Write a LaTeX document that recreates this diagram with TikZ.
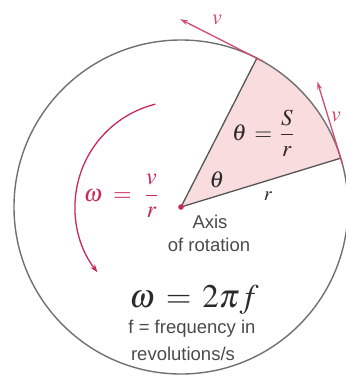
\documentclass[tikz,border=0pt]{standalone}
\usepackage{amsmath}
\usepackage{mathptmx}
\usepackage[no-math]{fontspec}
\setmainfont{Liberation Serif}
\setsansfont{Liberation Sans}
\usetikzlibrary{arrows.meta,calc}
\definecolor{rimgray}{HTML}{707070}
\definecolor{radgray}{HTML}{555555}
\definecolor{sectorpink}{HTML}{F9DCDE}
\definecolor{crim}{HTML}{C8285A}
\definecolor{tanpink}{HTML}{D04A72}
\definecolor{txtdark}{HTML}{2A2A2A}
\definecolor{txtgray}{HTML}{4A4A4A}
\tikzset{
  rim/.style={draw=rimgray, line width=1.4pt},
  radial/.style={draw=radgray, line width=1.3pt},
  tanarrow/.style={draw=tanpink, line width=1.3pt, -{Stealth[length=8pt,width=5pt]}},
  omegaarrow/.style={draw=crim, line width=1.3pt, -{Stealth[length=8pt,width=5.5pt]}},
  sanslabel/.style={font=\sffamily\fontsize{18.5}{20}\selectfont, text=txtgray, inner sep=0pt},
}
\begin{document}
\begin{tikzpicture}[x=1pt,y=1pt]
\useasboundingbox (0,0) rectangle (345,-377);
\coordinate (C) at (181,-207);
\coordinate (P1) at ($(C)+(63:167)$);
\coordinate (P2) at ($(C)+(17:167)$);
% sector
\fill[sectorpink] (C) -- (P2) arc[start angle=17,end angle=63,radius=167] -- cycle;
% circle
\draw[rim] (C) circle[radius=167];
% radii
\draw[radial] (C) -- (P1);
\draw[radial] (C) -- (P2);
% tangent velocity arrows
\coordinate (S1) at ($(P1)+6*(0.891,-0.454)$);
\coordinate (T1) at ($(P1)+86*(-0.891,0.454)$);
\coordinate (S2) at ($(P2)+6*(0.292,-0.956)$);
\coordinate (T2) at ($(P2)+80*(-0.292,0.956)$);
\draw[tanarrow] (S1) -- (T1);
\draw[tanarrow] (S2) -- (T2);
\node[text=tanpink, font=\fontsize{22}{24}\selectfont, inner sep=0pt] (v1) at (217,-20) {$v$};
\node[text=tanpink, font=\fontsize{22}{24}\selectfont, inner sep=0pt] (v2) at (336,-117) {$v$};
% omega arrow
\coordinate (A0) at ($(C)+(104:106)$);
\draw[omegaarrow] (A0) arc[start angle=104,end angle=218,radius=106];
% axis dot
\fill[crim] (C) circle[radius=2.8];
% labels
\node[text=crim, font=\fontsize{24}{28}\selectfont, inner sep=0pt] (om) at (121,-196)
  {$\omega\mskip 8mu{=}\mskip 10mu\dfrac{v\rule[-3pt]{0pt}{0pt}}{\rule{0pt}{14pt}r}$};
\node[text=txtdark, font=\fontsize{23}{26}\selectfont, inner sep=0pt] (th) at (263,-133)
  {$\theta\mskip 6mu{=}\mskip 6mu\dfrac{S}{r}$};
\node[text=txtdark, font=\fontsize{23}{26}\selectfont, inner sep=0pt] (th2) at (217,-180) {$\theta$};
\node[text=txtdark, font=\fontsize{20}{22}\selectfont, inner sep=0pt] (rr) at (268,-196) {$r$};
\node[sanslabel] (ax) at (210,-222) {Axis};
\node[sanslabel] (ofr) at (209,-245) {of rotation};
\node[text=txtdark, font=\fontsize{33}{36}\selectfont, inner sep=0pt, anchor=base] (w2) at (194,-307) {$\omega\mskip 6mu{=}\mskip 6mu 2\pi f$};
\node[sanslabel] (fr) at (192,-329) {f = frequency in};
\node[sanslabel] (rev) at (183,-354) {revolutions/s};
\end{tikzpicture}
\end{document}
